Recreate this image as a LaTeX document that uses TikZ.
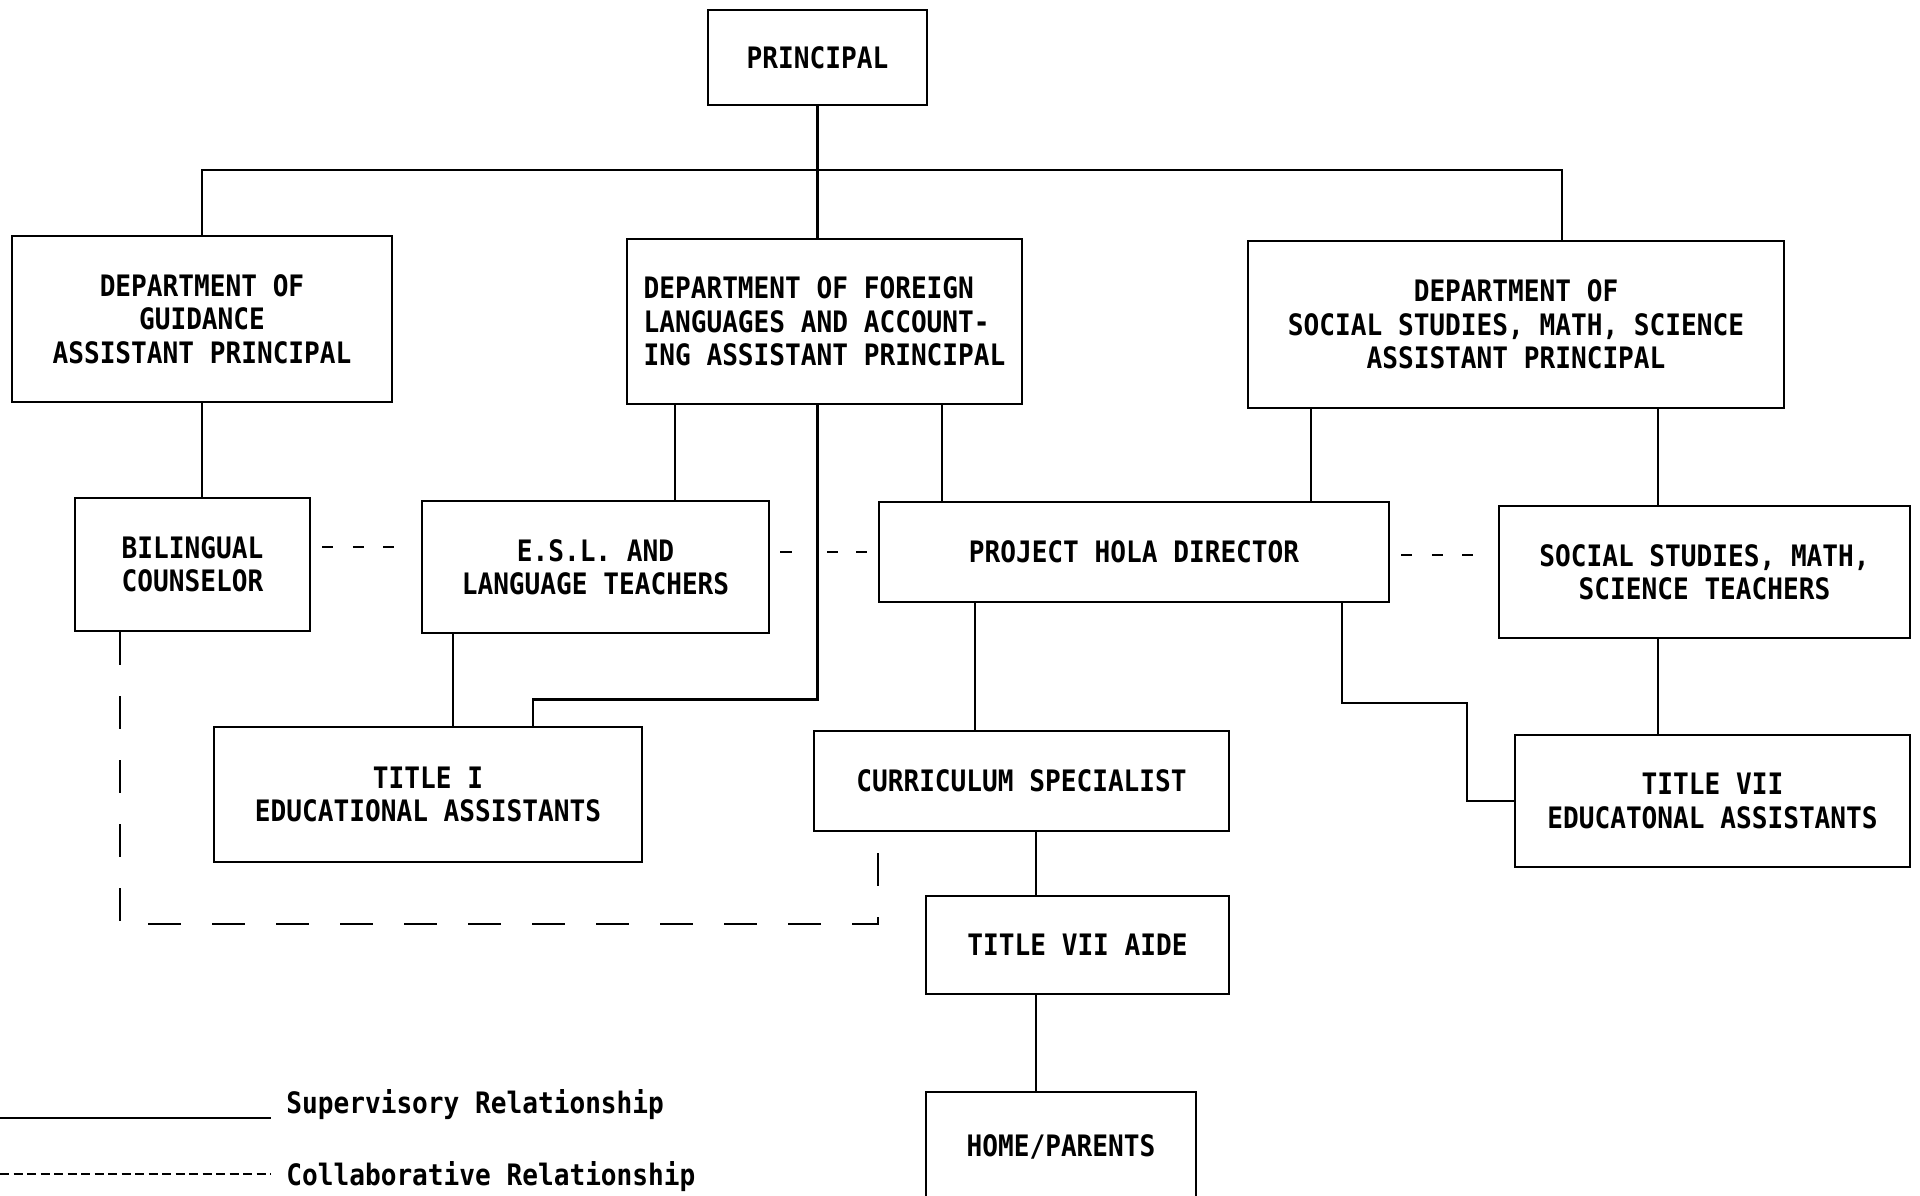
\documentclass[tikz,border=0pt]{standalone}
\usepackage{fontspec}
\setmonofont[FakeStretch=0.885]{DejaVu Sans Mono}
\begin{document}
\begin{tikzpicture}[line width=0.8pt,
	every node/.style={font=\ttfamily\bfseries\fontsize{8.4}{9.5}\selectfont},
	box/.style={draw,align=center,inner sep=0pt},
	collab/.style={dash pattern=on 1.1mm off 1.95mm},
	collablong/.style={dash pattern=on 3.3mm off 3.1mm},
	legenddash/.style={dash pattern=on 0.9mm off 0.45mm}]
	\useasboundingbox (0,0) rectangle (19.2,-11.95);
	% top and departments
	\node[box,minimum width=2.19cm,minimum height=0.95cm] (principal) at (8.175,-0.575) {PRINCIPAL};
	\node[box,minimum width=3.8cm,minimum height=1.66cm] (guid) at (2.02,-3.19) {DEPARTMENT OF\\GUIDANCE\\ASSISTANT PRINCIPAL};
	\node[box,align=left,minimum width=3.95cm,minimum height=1.65cm] (forlang) at (8.245,-3.215) {DEPARTMENT OF FOREIGN\\LANGUAGES AND ACCOUNT-\\ING ASSISTANT PRINCIPAL};
	\node[box,minimum width=5.36cm,minimum height=1.67cm] (ssdept) at (15.16,-3.245) {DEPARTMENT OF\\SOCIAL STUDIES, MATH, SCIENCE\\ASSISTANT PRINCIPAL};
	% second row
	\node[box,align=left,minimum width=2.35cm,minimum height=1.33cm] (bilingual) at (1.925,-5.645) {BILINGUAL\\COUNSELOR};
	\node[box,minimum width=3.47cm,minimum height=1.32cm] (esl) at (5.955,-5.67) {E.S.L. AND\\LANGUAGE TEACHERS};
	\node[box,minimum width=5.1cm,minimum height=1cm] (hola) at (11.34,-5.52) {PROJECT HOLA DIRECTOR};
	\node[box,minimum width=4.11cm,minimum height=1.32cm] (ssteach) at (17.045,-5.72) {SOCIAL STUDIES, MATH,\\SCIENCE TEACHERS};
	% third row
	\node[box,minimum width=4.28cm,minimum height=1.35cm] (title1) at (4.28,-7.945) {TITLE I\\EDUCATIONAL ASSISTANTS};
	\node[box,minimum width=4.15cm,minimum height=1cm] (curric) at (10.215,-7.81) {CURRICULUM SPECIALIST};
	\node[box,minimum width=3.95cm,minimum height=1.32cm] (title7) at (17.125,-8.01) {TITLE VII\\EDUCATONAL ASSISTANTS};
	\node[box,minimum width=3.03cm,minimum height=0.98cm] (aide) at (10.775,-9.45) {TITLE VII AIDE};
	\node[box,minimum width=2.7cm,minimum height=1.1cm] (home) at (10.61,-11.47) {HOME/PARENTS};
	% supervisory lines
	\coordinate (barR) at (15.62,-1.7);
	\coordinate (elbow) at (14.67,-7.03);
	\draw (principal.south) -- (principal.south |- forlang.north);
	\draw (guid.north) |- (barR) -- (barR |- ssdept.north);
	\draw (guid.south) -- (guid.south |- bilingual.north);
	\draw ([xshift=-14.95mm]forlang.south) -- ([xshift=-14.95mm]forlang.south |- esl.north);
	\draw ([xshift=11.75mm]forlang.south) -- ([xshift=11.75mm]forlang.south |- hola.north);
	\draw (principal.south |- forlang.south) -- ++(0,-2.94) -| ([xshift=10.5mm]title1.north);
	\draw ([xshift=-14.25mm]esl.south) -- ([xshift=-14.25mm]esl.south |- title1.north);
	\draw ([xshift=-20.5mm]ssdept.south) -- ([xshift=-20.5mm]ssdept.south |- hola.north);
	\draw ([xshift=14.2mm]ssdept.south) -- ([xshift=14.2mm]ssdept.south |- ssteach.north);
	\draw ([xshift=-15.9mm]hola.south) -- ([xshift=-15.9mm]hola.south |- curric.north);
	\draw ([xshift=20.8mm]hola.south) |- (elbow) |- (title7.west);
	\draw ([xshift=-4.65mm]ssteach.south) -- ([xshift=-4.65mm]ssteach.south |- title7.north);
	\draw ([xshift=1.45mm]curric.south) -- ([xshift=1.45mm]curric.south |- aide.north);
	\draw ([xshift=-4.15mm]aide.south) -- ([xshift=-4.15mm]aide.south |- home.north);
	% collaborative lines
	\draw[collab,shorten <=1.1mm,shorten >=2.5mm] ([yshift=1.75mm]bilingual.east) -- ([yshift=1.75mm]bilingual.east -| esl.west);
	\draw[dash pattern=on 1.2mm off 3.5mm on 1.1mm off 1.8mm on 1.3mm off 5mm,shorten <=1mm,shorten >=1.1mm] ([yshift=1.5mm]esl.east) -- ([yshift=1.5mm]esl.east -| hola.west);
	\draw[collab,shorten <=1.1mm,shorten >=2.4mm] ([yshift=-0.3mm]hola.east) -- ([yshift=-0.3mm]hola.east -| ssteach.west);
	\coordinate (dashcorner) at (8.78,-9.24);
	\draw[collablong] ([xshift=-7.25mm]bilingual.south) |- (dashcorner) -- (dashcorner |- curric.south);
	% legend
	\node[anchor=base west,inner sep=0pt] (suptext) at (2.85,-11.13) {Supervisory Relationship};
	\node[anchor=base west,inner sep=0pt] (coltext) at (2.85,-11.85) {Collaborative Relationship};
	\coordinate (supstart) at (0,-11.18);
	\coordinate (colstart) at (0,-11.74);
	\draw (supstart) -- ([xshift=-1.4mm]supstart -| suptext.west);
	\draw[legenddash] (colstart) -- ([xshift=-1.4mm]colstart -| coltext.west);
\end{tikzpicture}
\end{document}
